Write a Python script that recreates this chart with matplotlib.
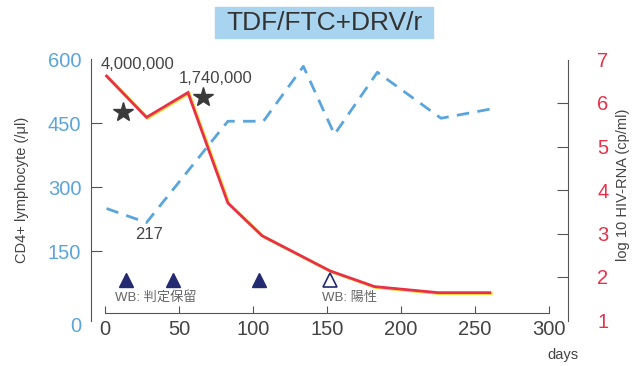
import matplotlib
matplotlib.use('Agg')
import matplotlib.pyplot as plt
import matplotlib.transforms as mtransforms
from matplotlib.patches import Rectangle

plt.rcParams['font.family'] = ['Liberation Sans', 'Noto Sans CJK JP', 'DejaVu Sans']

# CD4 (left axis)
cd4_days = [1, 28, 83, 107, 134, 155, 184, 227, 261]
cd4_vals = [250, 217, 455, 455, 584, 424, 570, 462, 484]

# log10 HIV-RNA (right axis)
rna_days = [1, 28, 56, 83, 106, 152, 182, 225, 260]
rna_vals = [6.62, 5.67, 6.24, 3.70, 2.95, 2.14, 1.78, 1.64, 1.64]

# stars and Western blot markers (left axis units)
star_days = [12, 66]
star_vals = [476, 512]
wb_days = [14, 46, 104, 152]
wb_filled = [True, True, True, False]
wb_y = 82

blue = '#5aa5dc'
red = '#e8304a'
yellow = '#f7e03a'
axis_gray = '#555555'
text_gray = '#444444'

fig = plt.figure(figsize=(6.41, 3.66), dpi=100)
W, H = 641, 366

# axes box in pixels: left 91, right 568, top 59.5, bottom 320.5
ax = fig.add_axes([91 / W, 1 - 320.5 / H, (568 - 91) / W, (320.5 - 59.5) / H])
ax.patch.set_alpha(0)
ax.set_xlim(-9.5, 312.8)
ax.set_ylim(-13, 600)

ax2 = ax.twinx()
ax2.set_ylim(1, 7)

# red line with a yellow edge
shadow = mtransforms.offset_copy(ax2.transData, fig=fig, x=1.2, y=-0.8, units='dots')
ax2.plot(rna_days, rna_vals, color=yellow, lw=2.2, transform=shadow, solid_joinstyle='miter')
ax2.plot(rna_days, rna_vals, color=red, lw=2.0, solid_joinstyle='miter')

ax.plot(cd4_days, cd4_vals, color=blue, lw=2.0, dashes=(4.5, 3.0), zorder=3)
ax.set_zorder(ax2.get_zorder() + 1)

ax.plot(star_days, star_vals, '*', color='#3a3a3a', ms=15, zorder=4)
for d, f in zip(wb_days, wb_filled):
    if f:
        ax.plot(d, wb_y, '^', color='#232a72', ms=10, zorder=4)
    else:
        ax.plot(d, wb_y, '^', mfc='white', mec='#232a72', mew=1.2, ms=9.5, zorder=4)

ax.text(34, 41, 'WB: 判定保留', fontsize=9.5, color='#666666', ha='center', va='center')
ax.text(165, 41, 'WB: 陽性', fontsize=9.5, color='#666666', ha='center', va='center')

ax.text(22, 589, '4,000,000', fontsize=12, color=text_gray, ha='center', va='center')
ax.text(75, 556, '1,740,000', fontsize=12, color=text_gray, ha='center', va='center')
ax.text(30, 188, '217', fontsize=12, color=text_gray, ha='center', va='center')

# spines
for s in ['top']:
    ax.spines[s].set_visible(False)
    ax2.spines[s].set_visible(False)
ax2.spines['left'].set_visible(False)
ax2.spines['bottom'].set_visible(False)
ax.spines['right'].set_visible(False)
ax.spines['left'].set_color(axis_gray)
ax2.spines['right'].set_color(axis_gray)
ax.spines['bottom'].set_position(('data', 4))
ax.spines['bottom'].set_bounds(0, 300)
ax.spines['bottom'].set_color(axis_gray)

ax.set_xticks([0, 50, 100, 150, 200, 250, 300])
ax.tick_params(axis='x', direction='in', length=5, color=axis_gray, labelsize=14.5,
               labelcolor=text_gray, pad=5)

ax.set_yticks([0, 150, 300, 450, 600])
ax.tick_params(axis='y', direction='in', length=8, color=axis_gray, labelsize=14.5,
               labelcolor=blue, pad=7)
yt = ax.yaxis.get_major_ticks()
for t in (yt[0], yt[-1]):
    t.tick1line.set_visible(False)
lab0 = ax.get_yticklabels()[0]
lab0.set_transform(lab0.get_transform() +
                   mtransforms.ScaledTranslation(0, -10 / 100, fig.dpi_scale_trans))

ax2.set_yticks([1, 2, 3, 4, 5, 6, 7])
ax2.tick_params(axis='y', direction='in', length=8, color=axis_gray, labelsize=14.5,
                labelcolor=red, pad=21)
rt = ax2.yaxis.get_major_ticks()
for t in (rt[0], rt[-1]):
    t.tick2line.set_visible(False)

fig.text(22 / W, 1 - 190 / H, 'CD4+ lymphocyte (/μl)', rotation=90, fontsize=10.5,
         color=text_gray, ha='center', va='center')
fig.text(623 / W, 1 - 185 / H, 'log 10 HIV-RNA (cp/ml)', rotation=90, fontsize=10.5,
         color=text_gray, ha='center', va='center')
fig.text(563 / W, 1 - 355 / H, 'days', fontsize=10.5, color=text_gray, ha='center', va='center')

# title box
fig.patches.append(Rectangle((215 / W, 1 - 38 / H), (433 - 215) / W, 31 / H,
                             transform=fig.transFigure, color='#a9d4ef', zorder=0))
fig.text(325 / W, 1 - 22.5 / H, 'TDF/FTC+DRV/r', fontsize=19, color='#333333',
         ha='center', va='center')

fig.savefig('out.png', dpi=100)
